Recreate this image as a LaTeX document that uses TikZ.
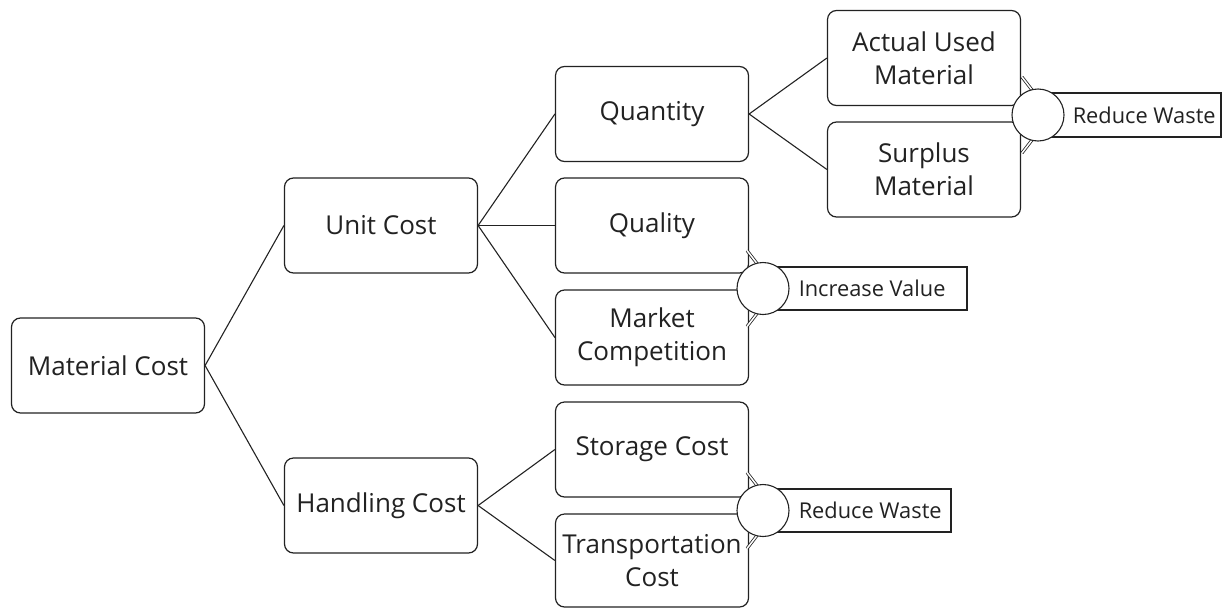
\documentclass[tikz,border=0pt]{standalone}
\usepackage{fontspec}
\setmainfont{Open Sans}
\usetikzlibrary{calc}
\definecolor{ink}{HTML}{222222}
\tikzset{
  box/.style={draw=ink, line width=1.2pt, rounded corners=9pt, fill=white,
    minimum width=193pt, minimum height=95pt, align=center, inner sep=0pt,
    text=ink, font=\fontsize{26}{33}\selectfont},
  conn/.style={draw=ink, line width=1.1pt},
  junc/.style={circle, draw=ink, line width=1.1pt, fill=white, minimum size=52pt, inner sep=0pt},
  tag/.style={draw=ink, line width=1.1pt, fill=white},
  tagtext/.style={anchor=west, text=ink, inner sep=0pt, font=\fontsize{21.8}{26}\selectfont},
  tick/.style={draw=ink, line width=0.8pt, double=white, double distance=1.5pt}
}
\begin{document}
\begin{tikzpicture}[x=1pt, y=-1pt]
\useasboundingbox (0,0) rectangle (1222,608);
% boxes
\node[box] (mc) at (108,365.5) {Material Cost};
\node[box] (uc) at (381,225.5) {Unit Cost};
\node[box] (hc) at (381,505.5) {Handling Cost};
\node[box] (qn) at (652,114) {Quantity};
\node[box] (ql) at (652,225.5) {Quality};
\node[box] (mk) at (652,337.5) {Market\\Competition};
\node[box] (sc) at (652,449.5) {Storage Cost};
\node[box, minimum height=93pt] (tc) at (652,560.5) {Transportation\\Cost};
\node[box] (au) at (924,58) {Actual Used\\Material};
\node[box] (sm) at (924,169.5) {Surplus\\Material};
% connectors
\draw[conn] (mc.east) -- (uc.west);
\draw[conn] (mc.east) -- (hc.west);
\draw[conn] (uc.east) -- (qn.west);
\draw[conn] (uc.east) -- (ql.west);
\draw[conn] (uc.east) -- (mk.west);
\draw[conn] (hc.east) -- (sc.west);
\draw[conn] (hc.east) -- (tc.west);
\draw[conn] (qn.east) -- (au.west);
\draw[conn] (qn.east) -- (sm.west);
% junction coordinates
\coordinate (j1) at (1038,115);
\coordinate (j2) at (763,288.5);
\coordinate (j3) at (763,510.5);
% tags
\draw[tag] ($(j1)+(0,-22)$) rectangle (1221,137);
\draw[tag] ($(j2)+(0,-21.5)$) rectangle (967,310);
\draw[tag] ($(j3)+(0,-21.5)$) rectangle (951,532);
% ticks
\foreach \j in {j1,j2,j3}{
  \draw[tick] ($(\j)+(-16,-38)$) -- ($(\j)+(-6,-25)$);
  \draw[tick] ($(\j)+(-16,38)$) -- ($(\j)+(-6,25)$);
}
% circles
\node[junc] (k1) at (j1) {};
\node[junc] (k2) at (j2) {};
\node[junc] (k3) at (j3) {};
\node[tagtext] (t1) at ($(k1.east)+(8,0)$) {Reduce Waste};
\node[tagtext] (t2) at ($(k2.east)+(9,0)$) {Increase Value};
\node[tagtext] (t3) at ($(k3.east)+(9,0)$) {Reduce Waste};
\end{tikzpicture}
\end{document}
